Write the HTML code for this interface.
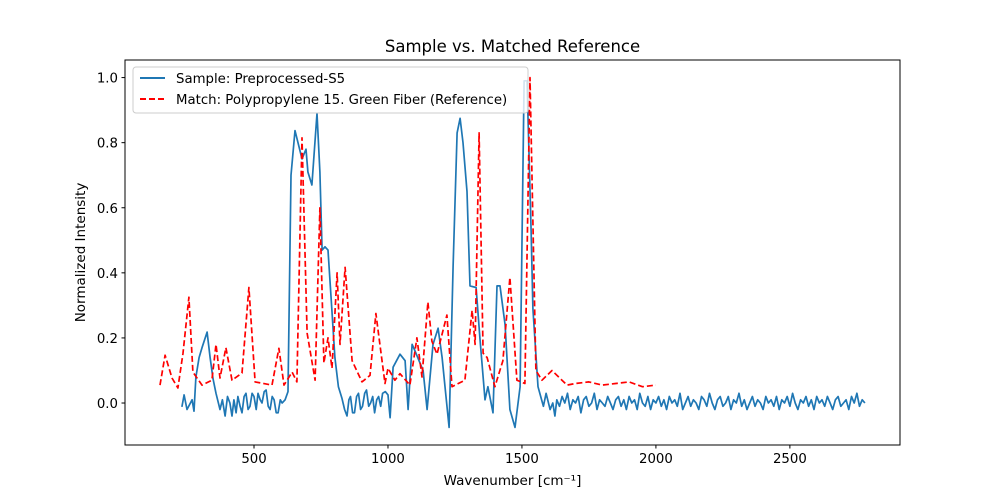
<!DOCTYPE html>
<html><head><meta charset="utf-8"><style>
body{margin:0;background:#fff;}
svg{display:block;font-family:"DejaVu Sans","Liberation Sans",sans-serif;}
</style></head><body>
<svg id="chart" width="1000" height="500" viewBox="0 0 1000 500" xmlns="http://www.w3.org/2000/svg">
<rect x="0" y="0" width="1000" height="500" fill="#fff"/>
<text x="512.5" y="52" font-size="16.5" text-anchor="middle">Sample vs. Matched Reference</text>
<g id="xticks"></g>
<g id="yticks"></g>
<g id="series"></g>
<rect x="125" y="60" width="775" height="385" fill="none" stroke="#000" stroke-width="1"/>
<text x="512.5" y="485" font-size="13.5" text-anchor="middle">Wavenumber [cm⁻¹]</text>
<text transform="translate(85,252.5) rotate(-90)" font-size="13.5" text-anchor="middle">Normalized Intensity</text>
<g>
<rect x="133" y="67" width="395" height="46" rx="3" fill="#fff" fill-opacity="0.8" stroke="#ccc"/>
<line x1="140" y1="78" x2="165" y2="78" stroke="#1f77b4" stroke-width="2"/>
<text x="176" y="83" font-size="13.3">Sample: Preprocessed-S5</text>
<line x1="140" y1="99" x2="165" y2="99" stroke="#f00" stroke-width="2" stroke-dasharray="6,3"/>
<text x="176" y="104" font-size="13.3">Match: Polypropylene 15. Green Fiber (Reference)</text>
</g>
</svg>
<script>
const xTicks=[500,1000,1500,2000,2500];
const yTicks=[0.0,0.2,0.4,0.6,0.8,1.0];
const sampleX=[231,239,250,269,276,283,295,306,325,336,347,358,373,382,392,401,410,418,425,433,440,448,455,463,470,478,485,493,500,508,515,523,530,538,545,553,560,568,575,583,590,598,605,616,627,638,653,664,679,694,701,716,735,746,754,765,776,791,802,815,828,838,847,854,860,868,875,883,890,898,905,913,920,928,935,943,950,958,965,973,980,990,1000,1008,1019,1045,1064,1075,1090,1101,1131,1146,1168,1187,1202,1213,1228,1243,1258,1269,1280,1295,1306,1329,1343,1362,1373,1392,1407,1418,1437,1455,1474,1493,1508,1519,1534,1541,1560,1570,1580,1590,1605,1615,1623,1630,1640,1650,1660,1670,1680,1690,1700,1710,1720,1730,1740,1750,1760,1770,1780,1790,1800,1810,1820,1830,1840,1850,1860,1870,1880,1890,1900,1910,1920,1930,1940,1950,1960,1970,1980,1990,2000,2010,2020,2030,2040,2050,2060,2070,2080,2090,2100,2110,2120,2130,2140,2150,2160,2170,2180,2190,2200,2210,2220,2230,2240,2250,2260,2270,2280,2290,2300,2310,2320,2330,2340,2350,2360,2370,2380,2390,2400,2410,2420,2430,2440,2450,2460,2470,2480,2490,2500,2510,2520,2530,2540,2550,2560,2570,2580,2590,2600,2610,2620,2630,2640,2650,2660,2670,2680,2690,2700,2710,2720,2730,2740,2750,2760,2770,2780];
const sampleY=[-0.012,0.025,-0.02,0.01,-0.025,0.08,0.14,0.17,0.218,0.14,0.075,0.03,-0.02,0.01,-0.04,0.02,0.0,-0.04,0.01,-0.03,0.02,-0.01,-0.03,0.02,0.03,-0.02,-0.01,0.03,0.02,-0.02,0.03,0.01,0.0,0.035,0.04,-0.01,-0.02,0.02,0.01,-0.03,-0.03,0.01,0.0,0.01,0.035,0.70,0.837,0.80,0.75,0.78,0.71,0.67,0.89,0.71,0.47,0.48,0.47,0.28,0.14,0.05,0.015,-0.02,-0.04,0.01,0.02,-0.03,-0.03,0.02,0.03,-0.02,-0.01,0.03,0.04,-0.01,0.0,0.02,-0.03,0.01,0.02,-0.01,0.03,0.035,0.025,-0.045,0.11,0.15,0.13,-0.02,0.18,0.16,0.10,-0.02,0.18,0.23,0.14,0.05,-0.075,0.42,0.83,0.875,0.80,0.65,0.36,0.355,0.20,0.01,0.05,-0.03,0.36,0.36,0.24,-0.02,-0.075,0.05,0.99,0.99,0.53,0.29,0.05,0.02,-0.01,0.03,-0.02,0.0,-0.04,0.01,-0.01,0.02,0.0,0.03,-0.02,0.01,0.0,0.02,-0.03,0.01,0.02,-0.01,0.0,0.03,-0.02,0.01,0.0,-0.01,0.02,0.0,-0.02,0.01,0.02,-0.01,0.01,-0.02,0.02,0.0,0.01,-0.02,0.03,0.0,-0.01,0.02,-0.02,0.01,0.0,0.02,-0.01,0.01,-0.02,0.02,0.0,0.01,-0.01,0.03,-0.02,0.0,0.02,-0.01,0.01,0.0,-0.02,0.02,0.01,-0.01,0.03,0.0,-0.02,0.01,0.02,-0.01,0.0,0.02,-0.02,0.01,0.0,0.03,-0.01,0.01,-0.02,0.0,0.02,-0.01,0.01,0.0,-0.02,0.02,0.0,0.01,-0.01,0.02,-0.02,0.01,0.0,0.02,-0.01,0.03,0.0,-0.02,0.01,0.0,0.02,-0.01,0.01,-0.02,0.02,0.0,0.01,-0.01,0.02,0.0,-0.02,0.01,0.02,-0.01,0.0,0.01,-0.02,0.02,0.0,0.03,-0.01,0.01,0.0,-0.02,0.02,0.01,-0.01,0.0,0.02,-0.01,0.03,0.0,-0.02,0.01];
const refX=[149,168,194,216,235,257,272,306,343,358,373,395,418,455,481,504,567,593,612,642,660,679,698,728,746,761,776,791,810,821,840,866,903,933,955,970,989,1000,1026,1045,1082,1108,1127,1149,1164,1183,1220,1239,1287,1314,1325,1340,1355,1370,1399,1429,1455,1481,1511,1530,1552,1575,1612,1668,1700,1750,1800,1850,1900,1950,2000];
const refY=[0.055,0.147,0.077,0.046,0.153,0.325,0.095,0.055,0.07,0.18,0.077,0.17,0.07,0.092,0.355,0.065,0.055,0.168,0.055,0.095,0.065,0.815,0.215,0.07,0.60,0.123,0.20,0.107,0.40,0.18,0.417,0.13,0.065,0.085,0.275,0.18,0.06,0.107,0.07,0.09,0.055,0.20,0.08,0.31,0.19,0.15,0.27,0.05,0.07,0.285,0.18,0.83,0.153,0.14,0.05,0.13,0.386,0.07,0.06,1.0,0.10,0.07,0.10,0.055,0.06,0.065,0.055,0.06,0.065,0.05,0.055];
const X0=18.5,X1=2911,Y0=-0.129,Y1=1.054;
const L=125,R=900,T=60,B=445;
const sx=v=>L+(v-X0)/(X1-X0)*(R-L);
const sy=v=>B-(v-Y0)/(Y1-Y0)*(B-T);
const NS="http://www.w3.org/2000/svg";
const xg=document.getElementById('xticks'),yg=document.getElementById('yticks'),sg=document.getElementById('series');
xTicks.forEach(t=>{
  const l=document.createElementNS(NS,'line');
  l.setAttribute('x1',sx(t));l.setAttribute('x2',sx(t));l.setAttribute('y1',B);l.setAttribute('y2',B+3.5);l.setAttribute('stroke','#000');
  
  
  xg.appendChild(l);
  const tx=document.createElementNS(NS,'text');
  tx.setAttribute('x',sx(t));tx.setAttribute('y',B+18);tx.setAttribute('font-size','13.3');tx.setAttribute('text-anchor','middle');
  tx.textContent=t;
  
  
  xg.appendChild(tx);
});
yTicks.forEach(t=>{
  const l=document.createElementNS(NS,'line');
  l.setAttribute('x1',L-3.5);l.setAttribute('x2',L);l.setAttribute('y1',sy(t));l.setAttribute('y2',sy(t));l.setAttribute('stroke','#000');
  
  
  yg.appendChild(l);
  const tx=document.createElementNS(NS,'text');
  tx.setAttribute('x',L-7);tx.setAttribute('y',sy(t)+5);tx.setAttribute('font-size','13.3');tx.setAttribute('text-anchor','end');
  tx.textContent=t.toFixed(1);
  
  
  yg.appendChild(tx);
});
function line(xs,ys,color,dash,name){
  const p=document.createElementNS(NS,'polyline');
  p.setAttribute('points',xs.map((x,i)=>sx(x).toFixed(1)+','+sy(ys[i]).toFixed(1)).join(' '));
  p.setAttribute('fill','none');p.setAttribute('stroke',color);p.setAttribute('stroke-width','1.7');
  p.setAttribute('stroke-linejoin','round');
  if(dash)p.setAttribute('stroke-dasharray',dash);
  
  
  sg.appendChild(p);
}
line(sampleX,sampleY,'#1f77b4',null,'sample-line');
line(refX,refY,'#ff0000','6,3','reference-line');
</script>
</body></html>
